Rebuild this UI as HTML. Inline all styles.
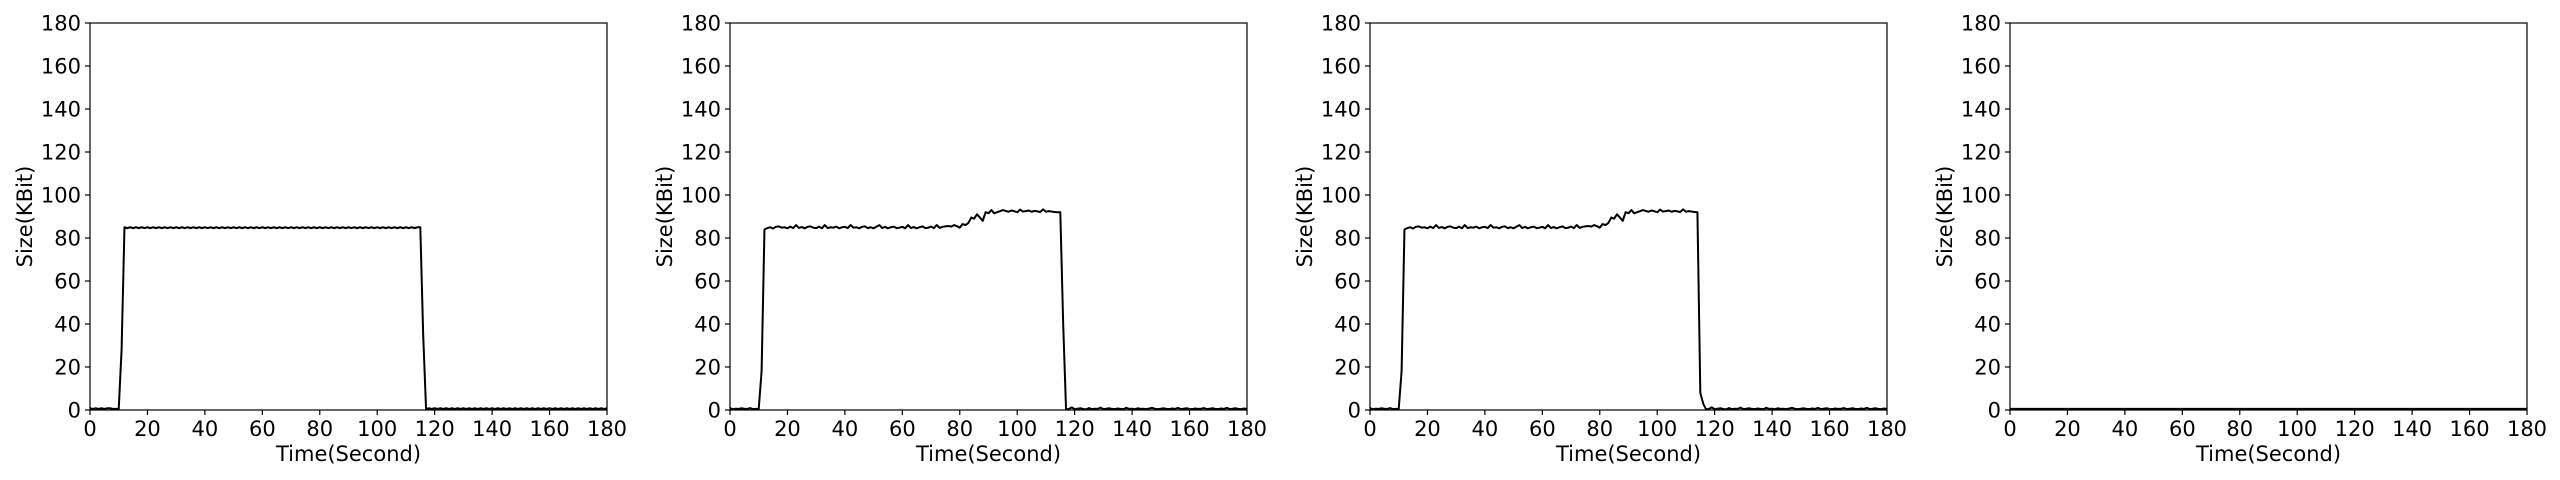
<!DOCTYPE html>
<html><head><meta charset="utf-8">
<style>
html,body{margin:0;padding:0;background:#fff;}
svg{display:block;}
text{font-family:"DejaVu Sans","Liberation Sans",sans-serif;fill:#000;}
</style></head>
<body>
<svg id="chart" width="2560" height="480" viewBox="0 0 2560 480" xmlns="http://www.w3.org/2000/svg"></svg>
<script>
const xTicks = [0,20,40,60,80,100,120,140,160,180];
const yTicks = [0,20,40,60,80,100,120,140,160,180];
const seriesA = [0.8,0.5,0.8,0.5,0.8,0.5,0.8,0.8,0.5,0.5,
0.5,28,
85,84.6,85,84.6,85,84.6,85,84.6,85,84.6,
85,84.6,85,84.6,85,84.6,85,84.6,85,84.6,
85,84.6,85,84.6,85,84.6,85,84.6,85,84.6,
85,84.6,85,84.6,85,84.6,85,84.6,85,84.6,
85,84.6,85,84.6,85,84.6,85,84.6,85,84.6,
85,84.6,85,84.6,85,84.6,85,84.6,85,84.6,
85,84.6,85,84.6,85,84.6,85,84.6,85,84.6,
85,84.6,85,84.6,85,84.6,85,84.6,85,84.6,
85,84.6,85,84.6,85,84.6,85,84.6,85,84.6,
85,84.6,85,84.6,85,84.6,85,84.6,85,84.6,
85,84.6,85,
85,35,
0.5,0.8,0.5,0.8,0.5,0.8,0.5,0.8,0.5,0.8,0.5,0.8,0.5,0.8,0.5,0.8,
0.5,0.8,0.5,0.8,0.5,0.8,0.5,0.8,0.5,0.8,0.5,0.8,0.5,0.8,0.5,0.8,
0.5,0.8,0.5,0.8,0.5,0.8,0.5,0.8,0.5,0.8,0.5,0.8,0.5,0.8,0.5,0.8,
0.5,0.8,0.5,0.8,0.5,0.8,0.5,0.8,0.5,0.8,0.5,0.8,0.5,0.8,0.5,0.8];
const seriesB = [0.9,0.4,0.6,0.5,0.8,0.6,0.5,0.9,0.4,0.5,
0.5,18,
84,84.6,85,84.4,85.2,85.4,84.8,85,84.5,85.3,
84.6,86,84.7,85.1,84.5,85.2,85.4,84.8,84.6,85.3,
84.5,86,84.6,85,84.8,85.3,84.5,85,85.2,84.6,
86,84.8,85,84.5,85.2,85.4,84.6,85,84.5,85.3,
86,84.6,85.2,84.5,85,85.3,84.6,84.8,85.2,84.5,
86,84.6,85.1,84.5,85,85.4,84.6,84.8,85.3,84.6,
86,84.7,85.2,85.4,85.6,85.3,86,85.5,84.8,86.5,
86,87,89.5,89,91,89.5,88,92,91.5,93,
91.5,92,92.5,93,92.6,92.2,92.8,92.4,92,93.2,
92.3,92.5,92.8,92.2,92.6,92.4,92.1,93.3,92.2,92.5,
92.3,92.1,92,
92,40,
0.3,0.5,1.2,0.4,0.6,0.8,0.5,0.3,0.9,0.4,0.6,0.5,1.1,0.4,0.6,0.8,
0.5,0.4,0.7,0.5,0.4,1.0,0.5,0.6,0.4,0.8,0.5,0.6,0.4,0.7,1.0,0.5,
0.4,0.6,0.8,0.5,0.4,0.7,0.5,1.0,0.4,0.6,0.8,0.5,0.4,0.7,0.5,0.6,
0.9,0.4,0.6,0.8,0.5,0.4,0.7,0.5,1.0,0.4,0.6,0.8,0.5,0.4,0.7,0.5];
const seriesC = [0.9,0.4,0.6,0.5,0.8,0.6,0.5,0.9,0.4,0.5,
0.5,18,
84,84.6,85,84.4,85.2,85.4,84.8,85,84.5,85.3,
84.6,86,84.7,85.1,84.5,85.2,85.4,84.8,84.6,85.3,
84.5,86,84.6,85,84.8,85.3,84.5,85,85.2,84.6,
86,84.8,85,84.5,85.2,85.4,84.6,85,84.5,85.3,
86,84.6,85.2,84.5,85,85.3,84.6,84.8,85.2,84.5,
86,84.6,85.1,84.5,85,85.4,84.6,84.8,85.3,84.6,
86,84.7,85.2,85.4,85.6,85.3,86,85.5,84.8,86.5,
86,87,89.5,89,91,89.5,88,92,91.5,93,
91.5,92,92.5,93,92.6,92.2,92.8,92.4,92,93.2,
92.3,92.5,92.8,92.2,92.6,92.4,92.1,93.3,92.2,92.5,
92.3,92.1,92,
8,3,
0.3,0.5,1.2,0.4,0.6,0.8,0.5,0.3,0.9,0.4,0.6,0.5,1.1,0.4,0.6,0.8,
0.5,0.4,0.7,0.5,0.4,1.0,0.5,0.6,0.4,0.8,0.5,0.6,0.4,0.7,1.0,0.5,
0.4,0.6,0.8,0.5,0.4,0.7,0.5,1.0,0.4,0.6,0.8,0.5,0.4,0.7,0.5,0.6,
0.9,0.4,0.6,0.8,0.5,0.4,0.7,0.5,1.0,0.4,0.6,0.8,0.5,0.4,0.7,0.5];
const seriesD = [0.5,0.5,0.5,0.5,0.5,0.5,0.5,0.5,0.5,0.5,
0.5,0.5,0.5,0.5,0.5,0.5,0.5,0.5,0.5,0.5,0.5,0.5,0.5,0.5,0.5,0.5,0.5,0.5,0.5,0.5,
0.5,0.5,0.5,0.5,0.5,0.5,0.5,0.5,0.5,0.5,0.5,0.5,0.5,0.5,0.5,0.5,0.5,0.5,0.5,0.5,
0.5,0.5,0.5,0.5,0.5,0.5,0.5,0.5,0.5,0.5,0.5,0.5,0.5,0.5,0.5,0.5,0.5,0.5,0.5,0.5,
0.5,0.5,0.5,0.5,0.5,0.5,0.5,0.5,0.5,0.5,0.5,0.5,0.5,0.5,0.5,0.5,0.5,0.5,0.5,0.5,
0.5,0.5,0.5,0.5,0.5,0.5,0.5,0.5,0.5,0.5,0.5,0.5,0.5,0.5,0.5,0.5,0.5,0.5,0.5,0.5,
0.5,0.5,0.5,0.5,0.5,0.5,0.5,0.5,0.5,0.5,0.5,0.5,0.5,0.5,0.5,0.5,0.5,0.5,0.5,0.5,
0.5,0.5,0.5,0.5,0.5,0.5,0.5,0.5,0.5,0.5,0.5,0.5,0.5,0.5,0.5,0.5,0.5,0.5,0.5,0.5,
0.5,0.5,0.5,0.5,0.5,0.5,0.5,0.5,0.5,0.5,0.5,0.5,0.5,0.5,0.5,0.5,0.5,0.5,0.5,0.5,
0.5,0.5,0.5,0.5,0.5,0.5,0.5,0.5,0.5,0.5,0.5];
const allSeries = [seriesA, seriesB, seriesC, seriesD];
const xLabel = "Time(Second)";
const yLabel = "Size(KBit)";

const NS = "http://www.w3.org/2000/svg";
const svg = document.getElementById('chart');
const panelLefts = [90, 730, 1370, 2010];
const PW = 517, TOP = 23, BOT = 410;
const XMAX = 180, YMAX = 180;
const FS = 21;

function mk(tag, attrs, parent){
  const e = document.createElementNS(NS, tag);
  for (const k in attrs) e.setAttribute(k, attrs[k]);
  parent.appendChild(e);
  return e;
}

allSeries.forEach((data, p) => {
  const L = panelLefts[p];
  const xs = v => L + v / XMAX * PW;
  const ys = v => BOT - v / YMAX * (BOT - TOP);
  const g = mk('g', {}, svg);
  
  

  let d = '';
  data.forEach((v, i) => { d += (i ? 'L' : 'M') + xs(i).toFixed(2) + ',' + ys(v).toFixed(2); });
  const path = mk('path', {d: d, fill: 'none', stroke: '#000', 'stroke-width': 2, 'stroke-linejoin': 'round'}, g);
  
  

  const frame = mk('rect', {x: L, y: TOP, width: PW, height: BOT - TOP, fill: 'none', stroke: '#000', 'stroke-width': 1.2}, g);
  
  

  xTicks.forEach(t => {
    const x = xs(t);
    mk('line', {x1: x, x2: x, y1: BOT, y2: BOT + 5, stroke: '#000', 'stroke-width': 1.2}, g);
    const tx = mk('text', {x: x, y: BOT + 26, 'font-size': FS, 'text-anchor': 'middle'}, g);
    tx.textContent = t;
    
    
  });
  yTicks.forEach(t => {
    const y = ys(t);
    mk('line', {x1: L - 5, x2: L, y1: y, y2: y, stroke: '#000', 'stroke-width': 1.2}, g);
    const ty = mk('text', {x: L - 9, y: y + 7.5, 'font-size': FS, 'text-anchor': 'end'}, g);
    ty.textContent = t;
    
    
  });
  const xt = mk('text', {x: L + PW / 2, y: 461, 'font-size': FS, 'text-anchor': 'middle'}, g);
  xt.textContent = xLabel;
  
  
  const yt = mk('text', {x: 0, y: 0, 'font-size': FS, 'text-anchor': 'middle', transform: 'translate(' + (L - 58) + ',' + ((TOP + BOT) / 2) + ') rotate(-90)'}, g);
  yt.textContent = yLabel;
  
  
});
</script>
</body></html>
